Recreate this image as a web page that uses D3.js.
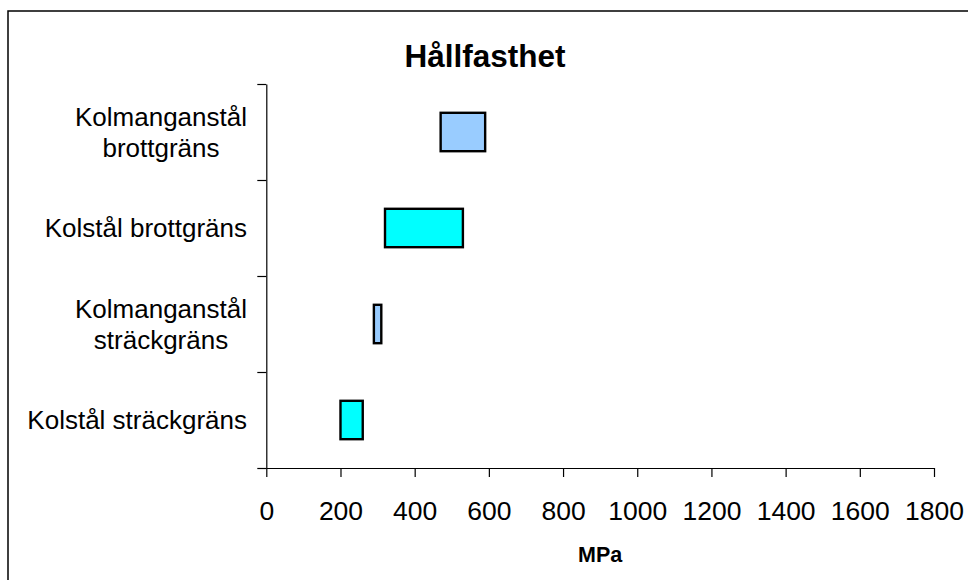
<!DOCTYPE html>
<html>
<head>
<meta charset="utf-8">
<script src="https://cdn.jsdelivr.net/npm/d3@7/dist/d3.min.js"></script>
<style>
  html, body { margin: 0; padding: 0; background: #fff; }
  svg { display: block; font-family: "Liberation Sans", Arial, sans-serif; }
</style>
</head>
<body>
<svg id="chart" width="968" height="580"></svg>
<script>
// Strength ranges (MPa) per steel grade, listed bottom to top
const categories = ["Kolstål sträckgräns", "Kolmanganstål sträckgräns", "Kolstål brottgräns", "Kolmanganstål brottgräns"];
const categoryLines = [["Kolstål sträckgräns"], ["Kolmanganstål", "sträckgräns"], ["Kolstål brottgräns"], ["Kolmanganstål", "brottgräns"]];
const lowValues = [200, 290, 320, 470];
const highValues = [260, 310, 530, 590];
const barColors = ["#00FFFF", "#99CCFF", "#00FFFF", "#99CCFF"];
const xTicks = [0, 200, 400, 600, 800, 1000, 1200, 1400, 1600, 1800];
const titleText = "Hållfasthet";
const xTitle = "MPa";

const svg = d3.select("#chart");

// outer chart frame
svg.append("rect")
  .attr("x", 8).attr("y", 11)
  .attr("width", 1000).attr("height", 700)
  .attr("fill", "#fff").attr("stroke", "#000").attr("stroke-width", 1.5);

const plot = { left: 266.3, right: 934, top: 84, bottom: 468 };

const x = d3.scaleLinear().domain([0, 1800]).range([plot.left, plot.right]);
const y = d3.scaleBand()
  .domain(categories.slice().reverse())
  .range([plot.top, plot.bottom])
  .paddingInner(0.6)
  .paddingOuter(0.3);
// category boundaries for the tick marks on the vertical axis
const yEdge = d3.scaleLinear().domain([0, categories.length]).range([plot.bottom, plot.top]);

// floating range bars
const rows = categories.map((c, i) => ({ cat: c, lo: lowValues[i], hi: highValues[i], color: barColors[i], lines: categoryLines[i] }));

svg.append("g").selectAll("rect")
  .data(rows)
  .join("rect")
  .attr("x", d => x(d.lo))
  .attr("y", d => y(d.cat))
  .attr("width", d => x(d.hi) - x(d.lo))
  .attr("height", y.bandwidth())
  .attr("fill", d => d.color)
  .attr("stroke", "#000")
  .attr("stroke-width", 2.4);

// vertical axis
const yAxis = svg.append("g")
  .attr("transform", `translate(${plot.left},0)`)
  .call(d3.axisLeft(yEdge).ticks(categories.length).tickSize(9).tickSizeOuter(0).tickFormat(""));
yAxis.selectAll("path, line").attr("stroke", "#000").attr("stroke-width", 1.2);

// horizontal axis
const xAxis = svg.append("g")
  .attr("transform", `translate(0,${plot.bottom})`)
  .call(d3.axisBottom(x).tickValues(xTicks).tickSize(9).tickSizeOuter(0).tickFormat(d3.format("d")));
xAxis.selectAll("path, line").attr("stroke", "#000").attr("stroke-width", 1.2);
xAxis.selectAll("text")
  .attr("y", 52).attr("dy", null)
  .attr("fill", "#000")
  .style("font-size", "26.5px")
  .style("font-family", "'Liberation Sans', Arial, sans-serif");

// category labels: multi-line blocks, lines centred within a right-aligned block
const labelRight = 247;
const lineGap = 30.7;
const labels = svg.append("g").style("font-size", "26px").attr("fill", "#000");
rows.forEach(r => {
  const g = labels.append("g");
  const n = r.lines.length;
  const cy = y(r.cat) + y.bandwidth() / 2;
  const texts = r.lines.map((ln, j) =>
    g.append("text")
      .attr("text-anchor", "middle")
      .attr("y", cy + 9.3 + (j - (n - 1) / 2) * lineGap)
      .text(ln));
  const w = d3.max(texts, t => t.node().getComputedTextLength());
  texts.forEach(t => t.attr("x", labelRight - w / 2));
});

// title
svg.append("text")
  .attr("x", 485).attr("y", 67)
  .attr("text-anchor", "middle")
  .style("font-size", "31.5px").style("font-weight", "bold")
  .text(titleText);

// axis title
svg.append("text")
  .attr("x", (plot.left + plot.right) / 2).attr("y", 561.5)
  .attr("text-anchor", "middle")
  .style("font-size", "21.5px").style("font-weight", "bold")
  .text(xTitle);
</script>
</body>
</html>
